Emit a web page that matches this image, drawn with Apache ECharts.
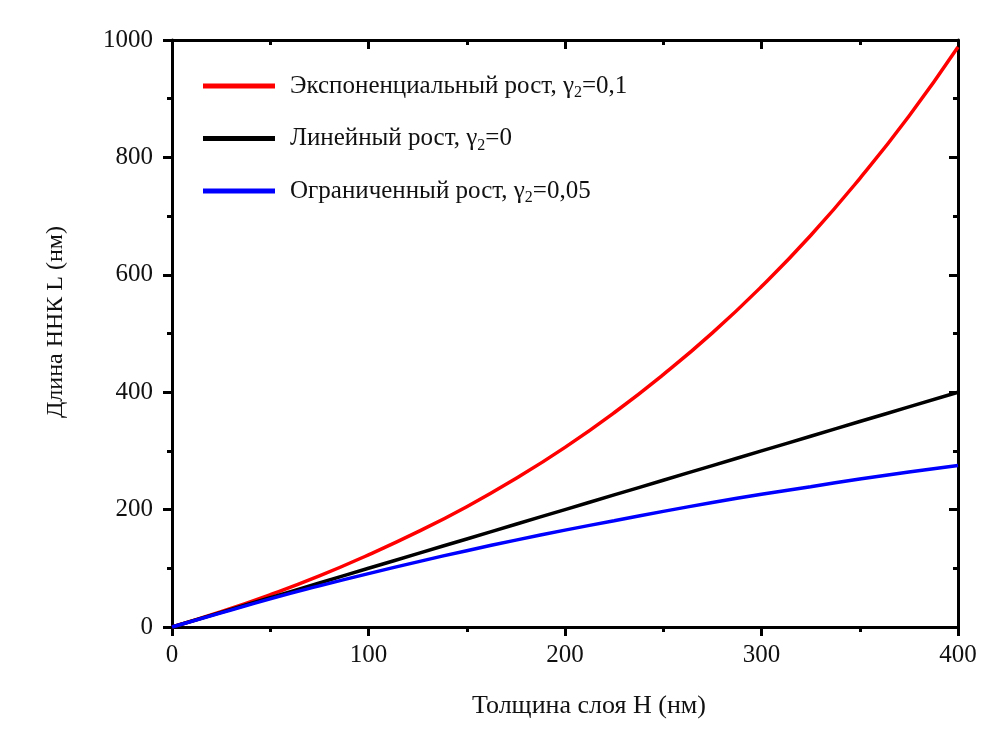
<!DOCTYPE html>
<html>
<head>
<meta charset="utf-8">
<script src="https://cdn.jsdelivr.net/npm/echarts@6/dist/echarts.min.js"></script>
<style>
html, body { margin: 0; padding: 0; background: #fff; }
#container { width: 997px; height: 734px; }
</style>
</head>
<body>
<div id="container"></div>
<script>
// толщина слоя H (нм)
var thickness = [0, 25, 50, 75, 100, 125, 150, 175, 200, 225, 250, 275, 300, 325, 350, 375, 400];
// длина ННК L (нм)
var expGrowth = [0, 26, 55, 87, 123, 162, 205, 253, 306, 365, 430, 501, 580, 667, 764, 870, 988];
var linGrowth = [0, 25, 50, 75, 100, 125, 150, 175, 200, 225, 250, 275, 300, 325, 350, 375, 400];
var limGrowth = [0, 24, 48, 70, 91, 111, 130, 148, 165, 181, 197, 212, 226, 239, 252, 264, 275];

var seriesNames = ['Экспоненциальный рост, γ2=0,1', 'Линейный рост, γ2=0', 'Ограниченный рост, γ2=0,05'];
var seriesColors = ['#ff0000', '#000000', '#0000ff'];
var seriesData = [expGrowth, linGrowth, limGrowth];

var font = '"Liberation Serif", "Times New Roman", serif';

function pairs(ys) {
	var out = [];
	for (var i = 0; i < thickness.length; i++) {
		out.push([thickness[i], ys[i]]);
	}
	return out;
}

// рамка: оси с делениями, сверху и справа деления внутрь
function frame(min, max, interval, inside) {
	return {
		type: 'value',
		min: min, max: max, interval: interval,
		axisLine: { show: true, onZero: false, lineStyle: { color: '#000', width: 3 } },
		axisTick: { show: true, inside: inside, length: 9, lineStyle: { color: '#000', width: 3 } },
		minorTick: { show: true, splitNumber: 2, length: 5, lineStyle: { color: '#000', width: 3 } },
		splitLine: { show: false },
		axisLabel: { show: false }
	};
}

var dom = document.getElementById('container');
var myChart = echarts.init(dom);

var xBottom = frame(0, 400, 100, false);
xBottom.position = 'bottom';
xBottom.name = 'Толщина слоя H (нм)';
xBottom.nameLocation = 'middle';
xBottom.nameGap = 66;
xBottom.nameTextStyle = { fontFamily: font, fontSize: 26, color: '#111', padding: [0, 0, 0, 48] };
xBottom.axisLabel = { show: true, fontFamily: font, fontSize: 25, color: '#111', margin: 16 };

var xTop = frame(0, 400, 100, true);
xTop.position = 'top';

var yLeft = frame(0, 1000, 200, false);
yLeft.position = 'left';
yLeft.name = 'Длина ННК L (нм)';
yLeft.nameLocation = 'middle';
yLeft.nameGap = 104;
yLeft.nameTextStyle = { fontFamily: font, fontSize: 24, color: '#111', padding: [0, 0, 0, 23] };
yLeft.axisLabel = { show: true, fontFamily: font, fontSize: 25, color: '#111', margin: 19,
	formatter: function (v) { return String(v); } };

var yRight = frame(0, 1000, 200, true);
yRight.position = 'right';

var series = [];
for (var i = 0; i < seriesNames.length; i++) {
	series.push({
		name: seriesNames[i],
		type: 'line',
		xAxisIndex: 0,
		yAxisIndex: 0,
		smooth: true,
		showSymbol: false,
		lineStyle: { color: seriesColors[i], width: 3.5 },
		itemStyle: { color: seriesColors[i] },
		data: pairs(seriesData[i])
	});
}

option = {
	backgroundColor: '#ffffff',
	animation: false,
	grid: { left: 172, right: 39, top: 40, bottom: 107 },
	legend: {
		orient: 'vertical',
		left: 198,
		top: 66,
		icon: 'rect',
		itemWidth: 72,
		itemHeight: 5,
		itemGap: 22.5,
		data: seriesNames,
		formatter: function (name) {
			return '{t|' + name.replace('γ2', 'γ}{s|2}{t|') + '}';
		},
		textStyle: {
			padding: [0, 0, 0, 10],
			rich: {
				t: { fontFamily: font, fontSize: 25, color: '#111', lineHeight: 31 },
				s: { fontFamily: font, fontSize: 16, color: '#111', lineHeight: 31, padding: [14, 0, 0, 0] }
			}
		}
	},
	xAxis: [xBottom, xTop],
	yAxis: [yLeft, yRight],
	series: series
};

if (option && typeof option === 'object') {
	myChart.setOption(option, true);
}
</script>
</body>
</html>
